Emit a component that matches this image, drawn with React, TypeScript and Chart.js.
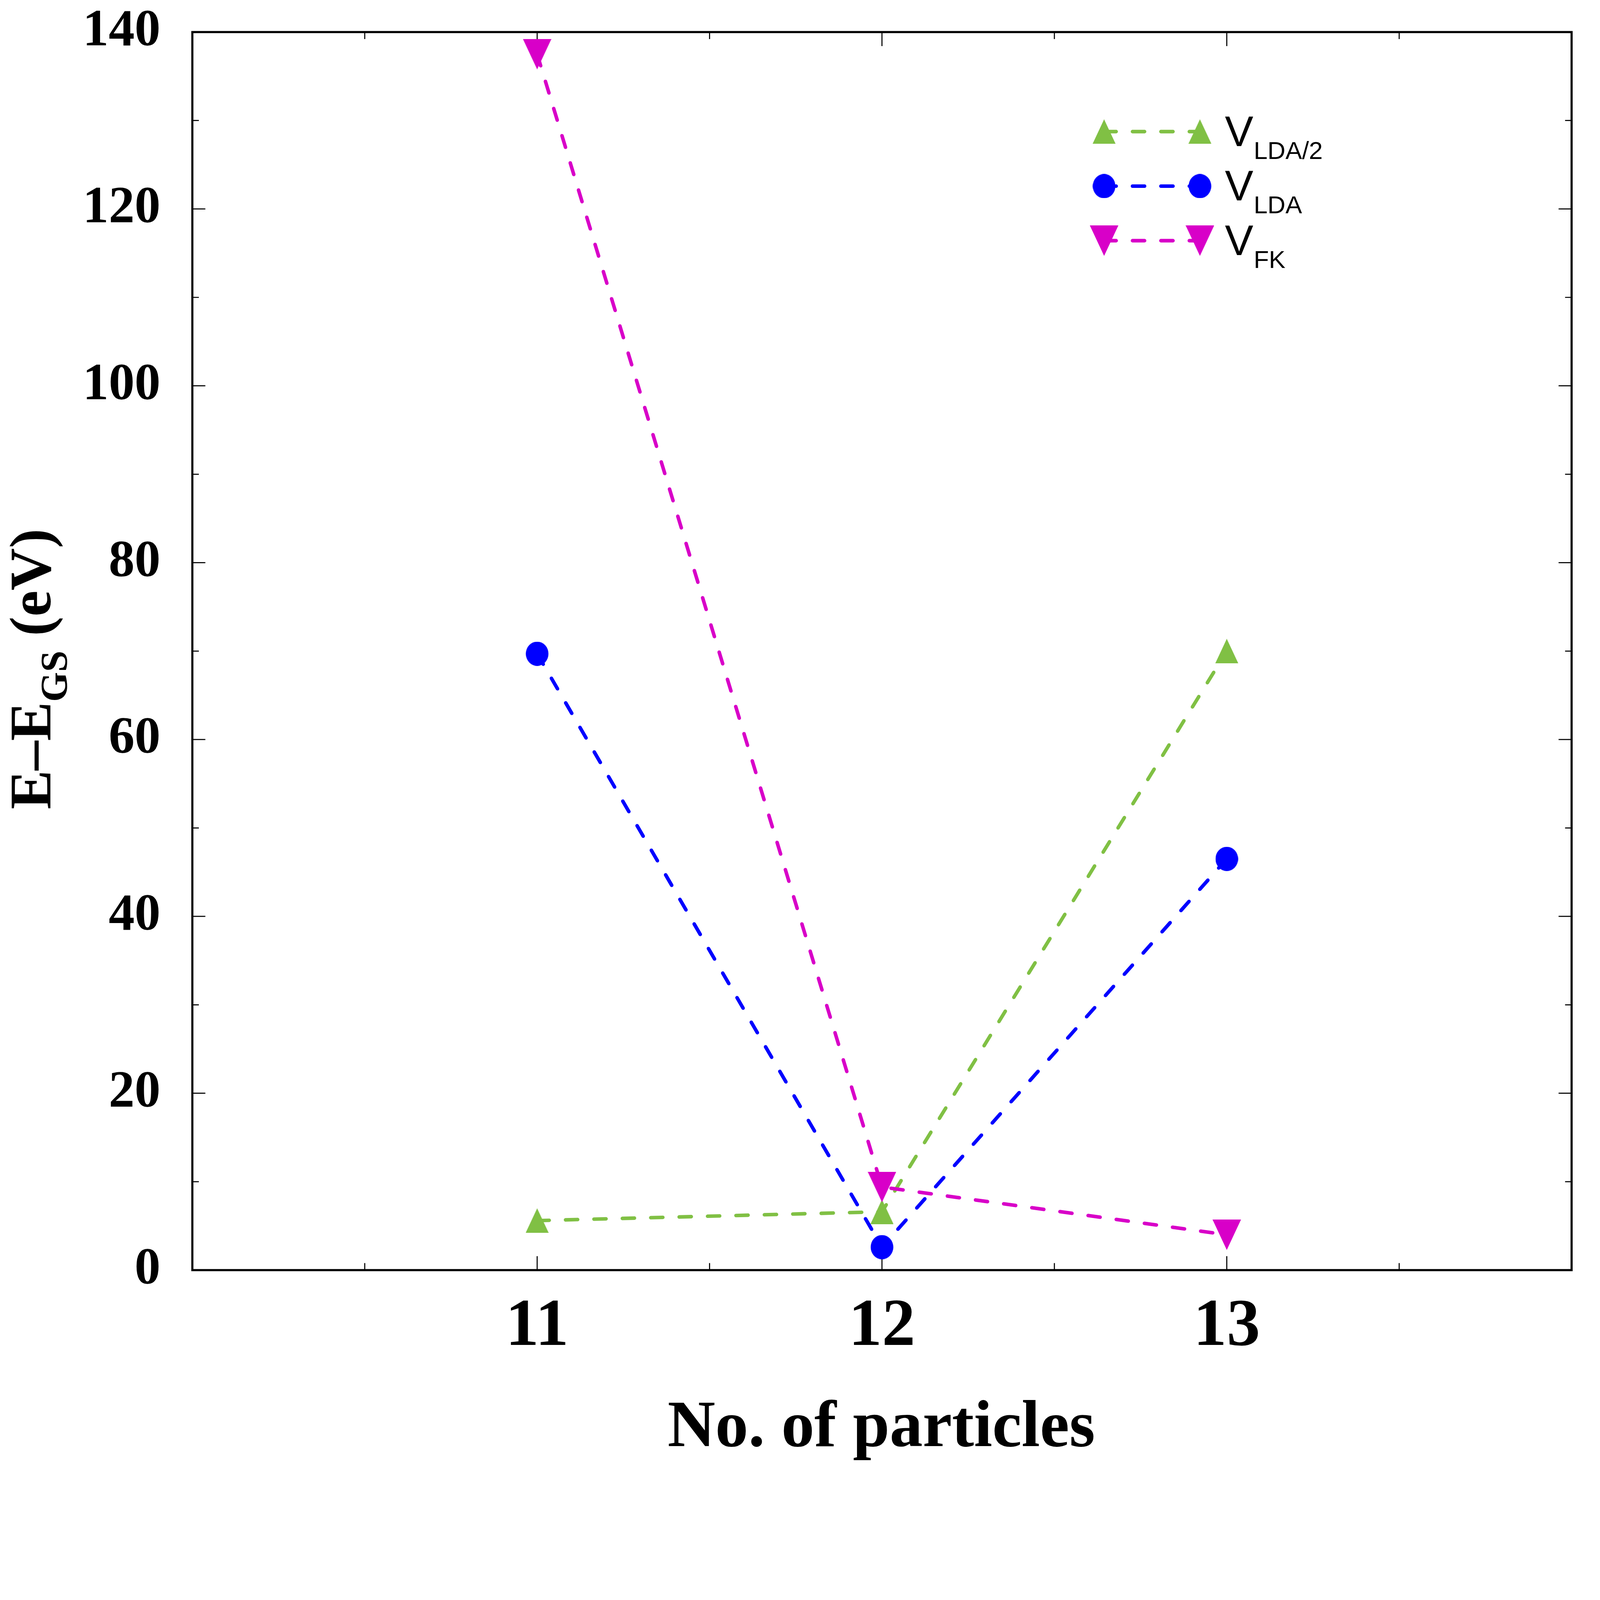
import { useEffect, useRef } from 'react'
import { Chart, registerables } from 'chart.js'

Chart.register(...registerables)

// values
const particles = [11, 12, 13]
const vLda2 = [5.6, 6.6, 70.0]
const vLda = [69.7, 2.6, 46.5]
const vFk = [137.5, 9.4, 4.0]

const xLabelTicks = [11, 12, 13]
const xMinorTicks = [10.5, 11.5, 12.5, 13.5]
const yMajorTicks = [0, 20, 40, 60, 80, 100, 120, 140]
const yMinorTicks = [10, 30, 50, 70, 90, 110, 130]

const legendMain = ['V', 'V', 'V']
const legendSub = ['LDA/2', 'LDA', 'FK']

// layout is measured on the 4675x4341 reference and scaled to whatever viewport we get
const REF_W = 4675
const REF_H = 4341
const SERIF = '"Liberation Serif", "Times New Roman", serif'
const SANS = '"Liberation Sans", Arial, sans-serif'

function makeMarker(shape: string, w: number, h: number, color: string) {
  const c = document.createElement('canvas')
  c.width = Math.max(1, Math.round(w))
  c.height = Math.max(1, Math.round(h))
  const g = c.getContext('2d')!
  g.fillStyle = color
  g.beginPath()
  if (shape === 'circle') {
    g.ellipse(c.width / 2, c.height / 2, c.width / 2, c.height / 2, 0, 0, Math.PI * 2)
  } else if (shape === 'up') {
    g.moveTo(c.width / 2, 0)
    g.lineTo(c.width, c.height)
    g.lineTo(0, c.height)
  } else {
    g.moveTo(0, 0)
    g.lineTo(c.width, 0)
    g.lineTo(c.width / 2, c.height)
  }
  g.closePath()
  g.fill()
  return c
}

function makeFramePlugin(sx: number, sy: number, sf: number) {
  const X = (v: number) => v * sx
  const Y = (v: number) => v * sy
  const F = (v: number) => v * sf
  return {
    id: 'gnuFrame',
    beforeDatasetsDraw(chart: any) {
      const { ctx, chartArea: a } = chart
      const x = chart.scales.x
      const y = chart.scales.y
      ctx.save()
      ctx.strokeStyle = '#000'
      ctx.lineWidth = F(3)
      ctx.beginPath()
      const xt = (vals: number[], len: number) => {
        for (const v of vals) {
          const px = x.getPixelForValue(v)
          ctx.moveTo(px, a.bottom)
          ctx.lineTo(px, a.bottom - Y(len))
          ctx.moveTo(px, a.top)
          ctx.lineTo(px, a.top + Y(len))
        }
      }
      const yt = (vals: number[], len: number) => {
        for (const v of vals) {
          const py = y.getPixelForValue(v)
          ctx.moveTo(a.left, py)
          ctx.lineTo(a.left + X(len), py)
          ctx.moveTo(a.right, py)
          ctx.lineTo(a.right - X(len), py)
        }
      }
      xt(xLabelTicks, 38)
      xt(xMinorTicks, 19)
      yt(yMajorTicks, 38)
      yt(yMinorTicks, 19)
      ctx.stroke()
      ctx.lineWidth = F(6)
      ctx.strokeRect(a.left, a.top, a.right - a.left, a.bottom - a.top)
      ctx.restore()
    },
    afterDraw(chart: any) {
      const { ctx } = chart
      ctx.save()
      ctx.fillStyle = '#000'

      // x title
      ctx.font = `bold ${F(186)}px ${SERIF}`
      ctx.textAlign = 'center'
      ctx.textBaseline = 'alphabetic'
      ctx.fillText('No. of particles', X(2575), Y(3923))

      // y title with subscript
      const big = `bold ${F(165)}px ${SERIF}`
      const small = `bold ${F(108)}px ${SERIF}`
      ctx.font = big
      const w1 = ctx.measureText('E–E').width
      const w3 = ctx.measureText(' (eV)').width
      ctx.font = small
      const w2 = ctx.measureText('GS').width
      const total = w1 + w2 + w3
      ctx.translate(X(147), Y(1815))
      ctx.rotate(-Math.PI / 2)
      ctx.textAlign = 'left'
      let cx = -total / 2
      ctx.font = big
      ctx.fillText('E–E', cx, 0)
      cx += w1
      ctx.font = small
      ctx.fillText('GS', cx, X(48))
      cx += w2
      ctx.font = big
      ctx.fillText(' (eV)', cx, 0)
      ctx.restore()

      // legend
      ctx.save()
      const x0 = X(3226)
      const x1 = X(3506)
      chart.data.datasets.forEach((ds: any, i: number) => {
        const rowY = Y(357 + i * 148)
        ctx.strokeStyle = ds.borderColor
        ctx.lineWidth = ds.borderWidth
        ctx.lineCap = 'round'
        ctx.setLineDash(ds.borderDash)
        ctx.beginPath()
        ctx.moveTo(x0, rowY)
        ctx.lineTo(x1, rowY)
        ctx.stroke()
        ctx.setLineDash([])
        const img = ds.pointStyle as HTMLCanvasElement
        ctx.drawImage(img, x0 - img.width / 2, rowY - img.height / 2)
        ctx.drawImage(img, x1 - img.width / 2, rowY - img.height / 2)
        ctx.fillStyle = '#000'
        ctx.textAlign = 'left'
        ctx.textBaseline = 'alphabetic'
        ctx.font = `${F(120)}px ${SANS}`
        ctx.fillText(legendMain[i], X(3579), rowY + Y(39))
        const vw = ctx.measureText(legendMain[i]).width
        ctx.font = `${F(70)}px ${SANS}`
        ctx.fillText(legendSub[i], X(3579) + vw + X(1), rowY + Y(74))
      })
      ctx.restore()
    },
  }
}

export default function App() {
  const canvasRef = useRef<HTMLCanvasElement>(null)
  const chartRef = useRef<Chart | null>(null)

  useEffect(() => {
    document.body.style.margin = '0'
    if (chartRef.current) chartRef.current.destroy()
    const canvas = canvasRef.current
    if (!canvas) return

    const w = window.innerWidth
    const h = window.innerHeight
    const sx = w / REF_W
    const sy = h / REF_H
    const sf = Math.sqrt(sx * sy)
    const X = (v: number) => v * sx
    const Y = (v: number) => v * sy
    const F = (v: number) => v * sf
    canvas.style.width = `${w}px`
    canvas.style.height = `${h}px`
    canvas.width = w
    canvas.height = h

    const green = '#80c044'
    const blue = '#0000ff'
    const magenta = '#d800c8'

    const lineCommon = {
      showLine: true,
      borderWidth: F(10),
      borderDash: [F(34), F(46)],
      borderCapStyle: 'round',
      pointBorderWidth: 0,
      pointRadius: F(40),
      tension: 0,
    }

    chartRef.current = new Chart(canvas, {
      type: 'scatter',
      data: {
        datasets: [
          {
            ...lineCommon,
            label: 'V_LDA/2',
            data: particles.map((p, i) => ({ x: p, y: vLda2[i] })),
            borderColor: green,
            backgroundColor: green,
            pointStyle: makeMarker('up', X(67), Y(67), green),
            order: 3,
          },
          {
            ...lineCommon,
            label: 'V_LDA',
            data: particles.map((p, i) => ({ x: p, y: vLda[i] })),
            borderColor: blue,
            backgroundColor: blue,
            pointStyle: makeMarker('circle', X(66), Y(66), blue),
            order: 2,
          },
          {
            ...lineCommon,
            label: 'V_FK',
            data: particles.map((p, i) => ({ x: p, y: vFk[i] })),
            borderColor: magenta,
            backgroundColor: magenta,
            pointStyle: makeMarker('down', X(83), Y(83), magenta),
            order: 1,
          },
        ],
      },
      options: {
        responsive: false,
        animation: false,
        devicePixelRatio: 1,
        events: [],
        layout: { padding: { top: Y(87), right: X(REF_W - 4592), left: 0, bottom: 0 } },
        plugins: { legend: { display: false }, tooltip: { enabled: false } },
        scales: {
          x: {
            type: 'linear',
            min: 10,
            max: 14,
            afterBuildTicks: (sc: any) => {
              sc.ticks = xLabelTicks.map((v) => ({ value: v }))
            },
            afterFit: (sc: any) => {
              sc.height = Y(REF_H - 3446)
            },
            grid: { display: false, drawTicks: false },
            border: { display: false },
            ticks: {
              color: '#000',
              padding: Y(156) - 0.6 * F(188),
              maxRotation: 0,
              autoSkip: false,
              font: { family: SERIF, size: F(188), weight: 'bold', lineHeight: 1.2 },
            },
          },
          y: {
            min: 0,
            max: 140,
            afterBuildTicks: (sc: any) => {
              sc.ticks = yMajorTicks.map((v) => ({ value: v }))
            },
            afterFit: (sc: any) => {
              sc.width = X(562)
            },
            // invisible tick marks only push the labels away from the axis
            grid: { display: false, drawTicks: true, tickLength: X(93) },
            border: { display: false },
            ticks: {
              color: '#000',
              padding: 0,
              autoSkip: false,
              font: { family: SERIF, size: F(146), weight: 'bold', lineHeight: 1 },
            },
          },
        },
      },
      plugins: [makeFramePlugin(sx, sy, sf)],
    } as any)

    return () => {
      if (chartRef.current) chartRef.current.destroy()
    }
  }, [])

  return (
    <div style={{ background: '#fff' }}>
      <canvas ref={canvasRef} style={{ display: 'block' }} />
    </div>
  )
}
